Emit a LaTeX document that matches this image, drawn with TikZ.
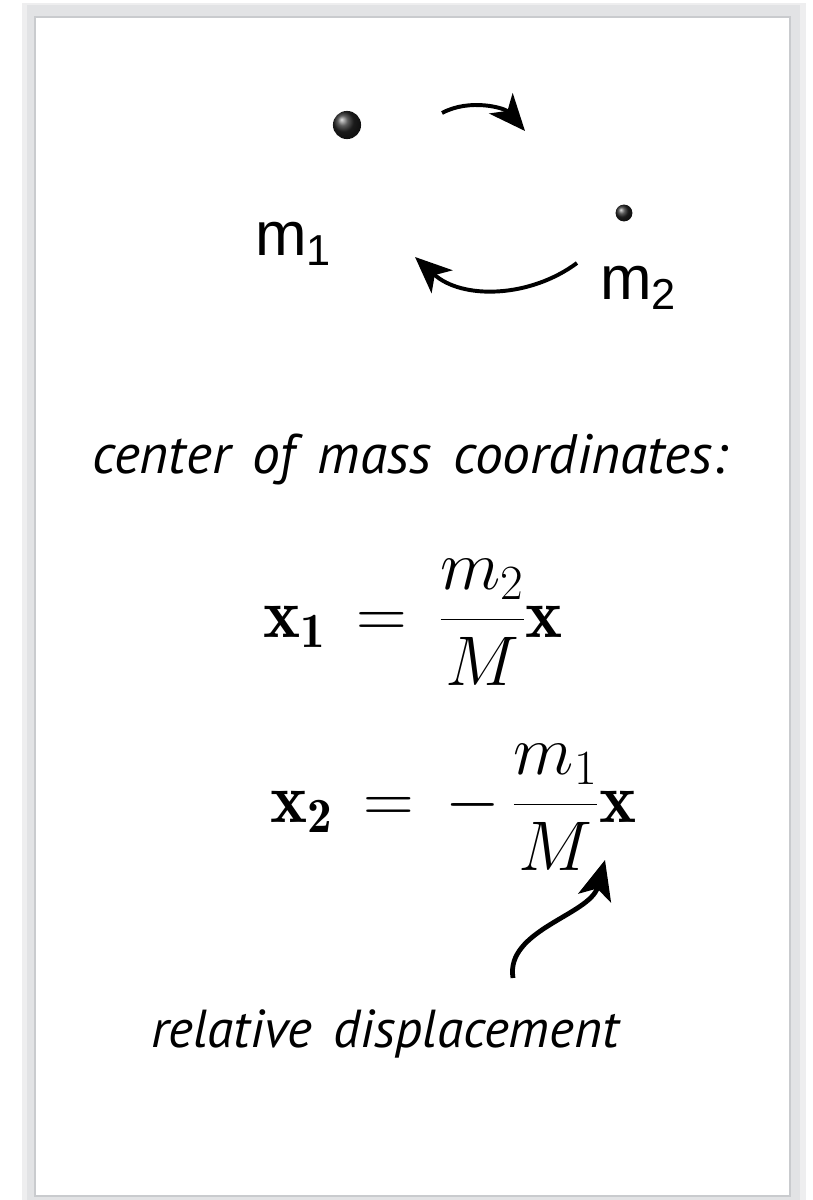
\documentclass[tikz,border=0pt]{standalone}
\usepackage{fix-cm}
\usepackage{amsmath}
\usepackage{fontspec}
\newfontfamily\gillfont{PT Sans}
\newfontfamily\helvfont{Liberation Sans}
\usetikzlibrary{arrows.meta}
\definecolor{rahmen}{HTML}{E2E3E5}
\definecolor{kante}{HTML}{C9CBCE}
\newcommand{\weit}{\thickmuskip=8mu\relax}
\newcommand{\luftig}{\spaceskip=0.4em\relax}

\begin{document}
\begin{tikzpicture}[x=0.025cm, y=-0.025cm,
        mass/.style={circle, inner sep=0pt, ball color=black!85},
        label/.style={inner sep=0pt, anchor=base west, font=\helvfont\fontsize{44}{53}\selectfont},
        caption/.style={inner sep=0pt, anchor=base, font=\gillfont\itshape\fontsize{38}{46}\selectfont\luftig},
        eqn/.style={inner sep=0pt, anchor=base west, font=\fontsize{50}{60}\selectfont},
        orbit/.style={-{Stealth[length=26, width=22, inset=7]}, line width=2.8pt},
        hint/.style={-{Stealth[length=28, width=24, inset=7]}, line width=3.4pt}
      ]
      \useasboundingbox (0,0) rectangle (813,1200);
      % frame
      \fill[rahmen!60] (22,3) rectangle (806,1200);
      \fill[rahmen] (27,5) rectangle (800,1200);
      \fill[white] (35,17) rectangle (790,1196);
      \draw[kante, line width=0.8pt] (35,17) rectangle (790,1196);
      % the two masses
      \node[mass, minimum size=20] (b1) at (347,125) {};
      \node[mass, minimum size=12] (b2) at (624,213) {};
      \node[label] (m1) at (255,256) {m\textsubscript{1}};
      \node[label] (m2) at (600,300) {m\textsubscript{2}};
      \coordinate (o1) at (442,113);
      \coordinate (o2) at (525,131);
      \coordinate (o3) at (577,263);
      \coordinate (o4) at (415,257);
      \draw[orbit] (o1) .. controls (470,98) and (505,108) .. (o2);
      \draw[orbit] (o3) .. controls (530,298) and (462,300) .. (o4);
      % coordinates
      \node[caption, font=\gillfont\itshape\fontsize{39.5}{48}\selectfont\luftig] (com) at (410,473) {center of mass coordinates:};
      \node[eqn] (eq1) at (263,637) {$\weit\displaystyle \mathbf{x_1} = \frac{m_2}{M}\mathbf{x}$};
      \node[eqn] (eq2) at (270,822) {$\weit\displaystyle \mathbf{x_2} = -\,\frac{m_1}{M}\mathbf{x}$};
      \node[caption] (rel) at (385,1047) {relative displacement};
      \coordinate (r1) at (513,978);
      \coordinate (r2) at (605,860);
      \draw[hint] (r1) .. controls (505,930) and (590,915) .. (r2);
    \end{tikzpicture}
\end{document}
